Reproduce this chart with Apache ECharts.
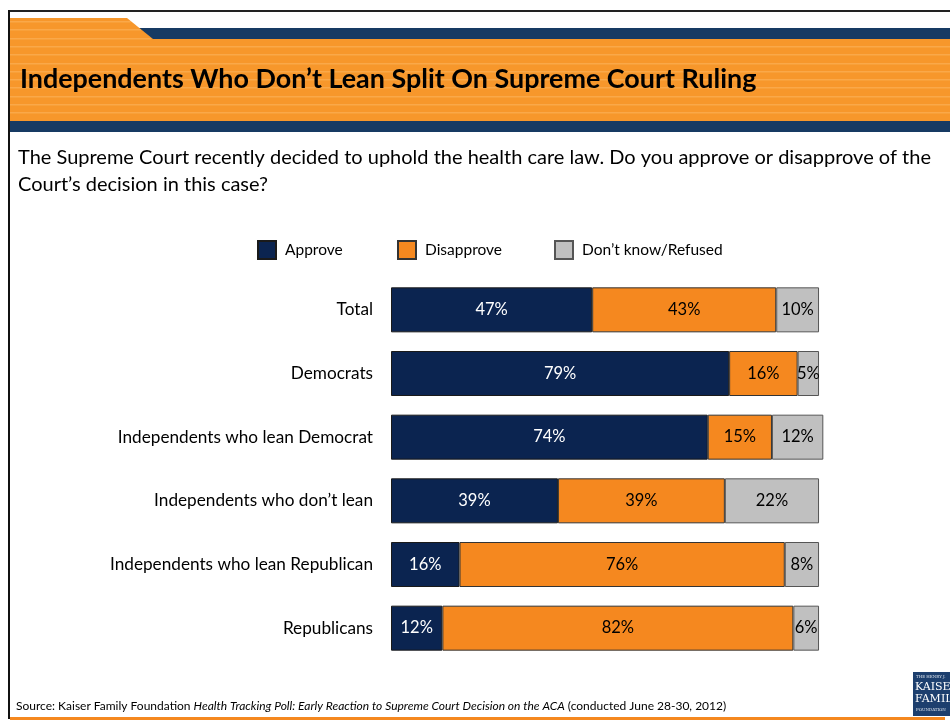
<!DOCTYPE html>
<html>
<head>
<meta charset="utf-8">
<script src="https://cdn.jsdelivr.net/npm/echarts@6/dist/echarts.min.js"></script>
<style>
  html, body { margin: 0; padding: 0; background: #fff; }
  #chart { width: 950px; height: 721px; }
</style>
</head>
<body>
<div id="chart"></div>
<script>
// Survey groups, top to bottom
const categories = [
  'Total',
  'Democrats',
  'Independents who lean Democrat',
  'Independents who don\u2019t lean',
  'Independents who lean Republican',
  'Republicans'
];
const approve    = [47, 79, 74, 39, 16, 12];
const disapprove = [43, 16, 15, 39, 76, 82];
const dontKnow   = [10, 5, 12, 22, 8, 6];
const seriesNames = ['Approve', 'Disapprove', 'Don\u2019t know/Refused'];

const FONT = 'Lato, "Open Sans", sans-serif';
const NAVY = '#0b2450';
const ORANGE = '#f5881f';
const GREY = '#c0c0c0';
const HEAD_ORANGE = '#f7972b';
const HEAD_NAVY = '#173a63';

const chart = echarts.init(document.getElementById('chart'), null, { renderer: 'canvas' });

// faint stripes across the orange header band
const stripes = [];
for (let y = 21; y < 121; y += 8.3) {
  const x1 = y < 39 ? 127 + (y - 18) * (26 / 21) : 950;
  stripes.push({
    type: 'rect',
    shape: { x: 10, y: Math.round(y), width: x1 - 10, height: 1.5 },
    style: { fill: 'rgba(255,200,130,0.35)' },
    silent: true
  });
}

function segment(name, data, color, textColor, borderColor) {
  return {
    name: name,
    type: 'bar',
    stack: 'all',
    data: data,
    barWidth: 45,
    itemStyle: { color: color, borderColor: borderColor, borderWidth: 1 },
    label: {
      show: true,
      position: 'inside',
      formatter: '{c}%',
      color: textColor,
      fontFamily: FONT,
      fontSize: 16.5
    },
    emphasis: { disabled: true }
  };
}

function legendItem(name, left) {
  return {
    data: [name],
    left: left,
    top: 240,
    padding: 0,
    itemWidth: 18,
    itemHeight: 18,
    icon: 'rect',
    textStyle: { fontFamily: FONT, fontSize: 15.5, color: '#000', padding: [0, 0, 0, 4] },
    selectedMode: false
  };
}

chart.setOption({
  animation: false,
  backgroundColor: '#fff',
  legend: [
    legendItem(seriesNames[0], 257),
    legendItem(seriesNames[1], 397),
    legendItem(seriesNames[2], 554)
  ],
  grid: { left: 391, top: 278, width: 436.6, height: 382, containLabel: false },
  xAxis: {
    type: 'value',
    min: 0,
    max: 102,
    show: false
  },
  yAxis: {
    type: 'category',
    data: categories,
    inverse: true,
    axisLine: { show: false },
    axisTick: { show: false },
    axisLabel: { fontFamily: FONT, fontSize: 17.2, color: '#000', margin: 18 }
  },
  series: [
    segment(seriesNames[0], approve, NAVY, '#fff', '#1a1a1a'),
    segment(seriesNames[1], disapprove, ORANGE, '#000', '#333'),
    segment(seriesNames[2], dontKnow, GREY, '#000', '#555')
  ],
  graphic: [
    // frame
    { type: 'rect', shape: { x: 8, y: 10, width: 942, height: 2 }, style: { fill: '#222' }, silent: true },
    { type: 'rect', shape: { x: 8, y: 10, width: 2, height: 709 }, style: { fill: '#111' }, silent: true },
    // header bands
    { type: 'rect', shape: { x: 130, y: 28, width: 820, height: 11 }, style: { fill: HEAD_NAVY }, silent: true },
    { type: 'polygon', shape: { points: [[10, 18], [127, 18], [153, 39], [10, 39]] }, style: { fill: HEAD_ORANGE }, silent: true },
    { type: 'rect', shape: { x: 10, y: 39, width: 940, height: 82 }, style: { fill: HEAD_ORANGE }, silent: true },
    ...stripes,
    { type: 'rect', shape: { x: 10, y: 121, width: 940, height: 11 }, style: { fill: HEAD_NAVY }, silent: true },
    {
      type: 'text', left: 20, top: 66,
      style: {
        text: 'Independents Who Don\u2019t Lean Split On Supreme Court Ruling',
        fontFamily: FONT, fontWeight: 'bold', fontSize: 26.9, fill: '#000'
      },
      silent: true
    },
    // question
    {
      type: 'text', left: 18, top: 144,
      style: {
        text: 'The Supreme Court recently decided to uphold the health care law. Do you approve or disapprove of the\nCourt\u2019s decision in this case?',
        fontFamily: FONT, fontSize: 20, lineHeight: 27, fill: '#000'
      },
      silent: true
    },
    // source note
    {
      type: 'text', left: 16, top: 700,
      style: {
        text: '{n|Source: Kaiser Family Foundation }{i|Health Tracking Poll: Early Reaction to Supreme Court Decision on the ACA}{n| (conducted June 28-30, 2012)}',
        rich: {
          n: { fontFamily: FONT, fontSize: 12, fill: '#000' },
          i: { fontFamily: FONT, fontSize: 12, fontStyle: 'italic', fill: '#000' }
        }
      },
      silent: true
    },
    // bottom rule
    { type: 'rect', shape: { x: 10, y: 717, width: 935, height: 3 }, style: { fill: '#f5881f' }, silent: true },
    // foundation logo
    { type: 'rect', shape: { x: 913, y: 672, width: 37, height: 44 }, style: { fill: '#1d3f6e' }, silent: true },
    { type: 'text', left: 916, top: 675, style: { text: 'THE HENRY J.', fontFamily: 'DejaVu Serif', fontSize: 4, fill: '#dfe6ef' }, silent: true },
    { type: 'text', left: 915, top: 682, style: { text: 'KAISER', fontFamily: 'DejaVu Serif', fontSize: 11, fill: '#fff' }, silent: true },
    { type: 'text', left: 915, top: 694, style: { text: 'FAMILY', fontFamily: 'DejaVu Serif', fontSize: 11, fill: '#fff' }, silent: true },
    { type: 'text', left: 916, top: 708, style: { text: 'FOUNDATION', fontFamily: 'DejaVu Serif', fontSize: 4, fill: '#dfe6ef' }, silent: true }
  ]
});
</script>
</body>
</html>
